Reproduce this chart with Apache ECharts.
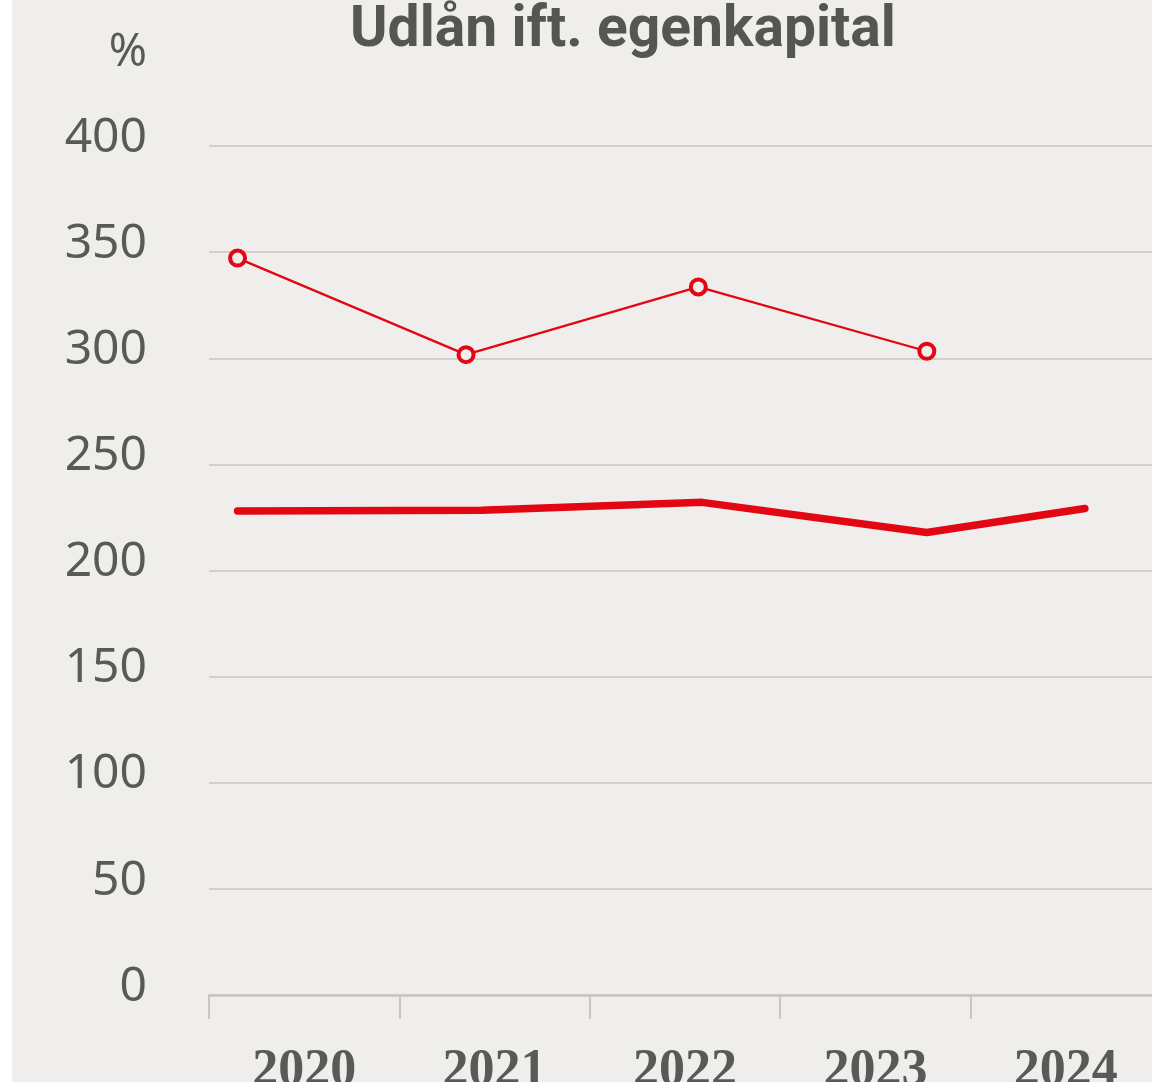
<!DOCTYPE html>
<html>
<head>
<meta charset="utf-8">
<script src="https://cdn.jsdelivr.net/npm/echarts@6/dist/echarts.min.js"></script>
<style>
    html, body { margin: 0; padding: 0; background: #ffffff; }
    #chart { position: absolute; left: 12px; top: 0; width: 1140px; height: 1082px; }
</style>
</head>
<body>
<div id="chart"></div>
<script>
// categories on the x axis
const years = ['2020', '2021', '2022', '2023', '2024'];

// thick line (position within the year, value in %)
const thickPos = [2020.15, 2021.43, 2022.59, 2023.77, 2024.60];
const thickVals = [228, 228.4, 232.1, 217.9, 229.2];

// thin line with circle markers
const thinPos = [2020.15, 2021.35, 2022.57, 2023.77];
const thinVals = [347.2, 301.7, 333.6, 303.3];

const red = '#e30613';
const bg = '#efeeec';
const gridCol = '#cdc5bd';
const textCol = '#595957';

var dom = document.getElementById('chart');
var chart = echarts.init(dom, null, { renderer: 'canvas' });

var option = {
    backgroundColor: bg,
    animation: false,
    title: {
        text: 'Udlån ift. egenkapital',
        left: 606,
        textAlign: 'center',
        top: -2,
        textStyle: {
            fontFamily: 'Roboto',
            fontWeight: 'bold',
            fontSize: 57,
            color: '#555553'
        }
    },
    grid: {
        left: 197,
        top: 146,
        bottom: 87,
        right: -9,
        outerBoundsMode: 'none',
        containLabel: false
    },
    xAxis: [
        {
            type: 'category',
            data: years,
            boundaryGap: true,
            axisLine: { show: true, lineStyle: { color: gridCol, width: 2.5 } },
            axisTick: { show: true, length: 24, lineStyle: { color: gridCol, width: 2 } },
            splitLine: { show: false },
            axisLabel: {
                margin: 51,
                fontFamily: 'Liberation Serif',
                fontWeight: 'bold',
                fontSize: 52,
                color: textCol
            }
        },
        {
            type: 'value',
            min: 2020,
            max: 2025,
            show: false
        }
    ],
    yAxis: {
        type: 'value',
        min: 0,
        max: 400,
        interval: 50,
        name: '%',
        nameLocation: 'end',
        nameGap: 70,
        nameTextStyle: {
            align: 'right',
            padding: [0, 62, 0, 0],
            fontFamily: 'Noto Sans',
            fontSize: 46,
            color: textCol
        },
        axisLine: { show: false },
        axisTick: { show: false },
        splitLine: { lineStyle: { color: gridCol, width: 1.5 } },
        axisLabel: {
            margin: 62,
            formatter: '{v|{value}}',
            rich: {
                v: {
                    padding: [0, 0, 16, 0],
                    fontFamily: 'Noto Sans',
                    fontSize: 48,
                    color: textCol
                }
            }
        }
    },
    series: [
        {
            type: 'line',
            xAxisIndex: 1,
            data: thickPos.map((x, i) => [x, thickVals[i]]),
            symbol: 'none',
            lineStyle: { color: red, width: 7.5, cap: 'round', join: 'round' },
            z: 3
        },
        {
            type: 'line',
            xAxisIndex: 1,
            data: thinPos.map((x, i) => [x, thinVals[i]]),
            symbol: 'circle',
            symbolSize: 15,
            showSymbol: true,
            lineStyle: { color: red, width: 2.3 },
            itemStyle: { color: bg, borderColor: red, borderWidth: 4 },
            z: 4
        }
    ]
};

chart.setOption(option);
</script>
</body>
</html>
